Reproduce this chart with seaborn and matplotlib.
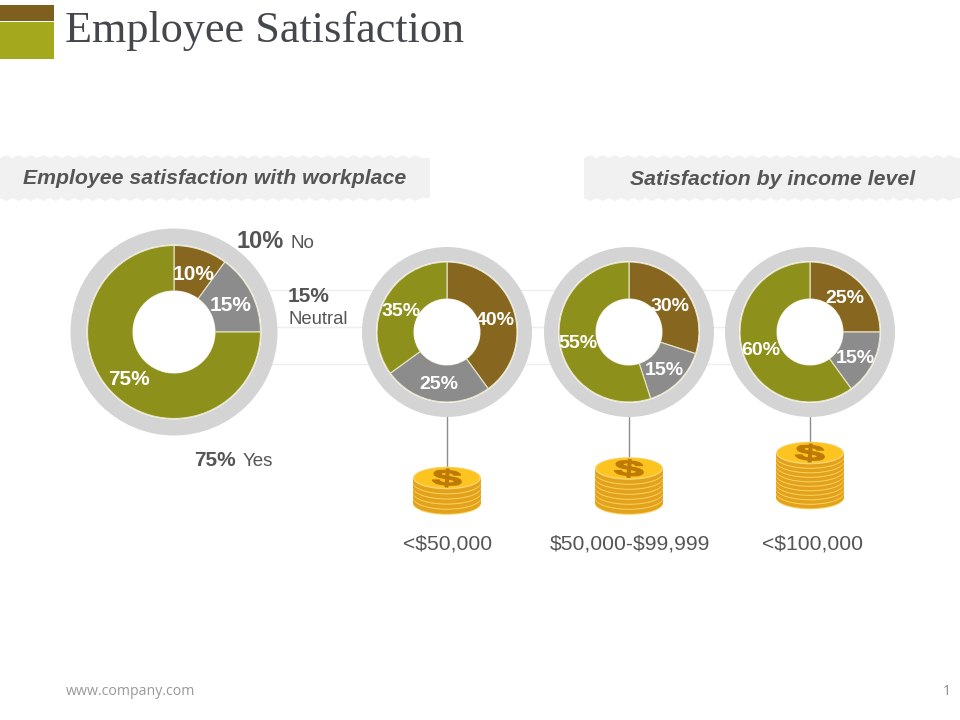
import matplotlib
matplotlib.use('Agg')
import matplotlib.pyplot as plt
from matplotlib.patches import Circle, Ellipse, PathPatch, Polygon, Rectangle
from matplotlib.textpath import TextPath
from matplotlib.font_manager import FontProperties
from matplotlib.transforms import Affine2D
import numpy as np
import seaborn as sns

# chart values
workplace_labels = ['No', 'Neutral', 'Yes']
workplace_values = [10, 15, 75]
income_groups = ['<$50,000', '$50,000-$99,999', '<$100,000']
income_no = [40, 30, 25]
income_neutral = [25, 15, 15]
income_yes = [35, 55, 60]
coin_counts = [5, 7, 10]

sns.set_theme(style='white')
plt.rcParams['font.family'] = ['Liberation Sans', 'DejaVu Sans']
plt.rcParams['text.parse_math'] = False
colors = sns.color_palette(['#876720', '#8c8c8c', '#8d911c'])
TEXT = '#555555'
RING = '#d4d4d4'


def Y(py):
    # picture pixels count from the top
    return 720 - py


fig = plt.figure(figsize=(9.6, 7.2), dpi=100)
ax = fig.add_axes([0, 0, 1, 1])
ax.set_xlim(0, 960)
ax.set_ylim(0, 720)
ax.set_aspect('equal')
ax.axis('off')

# logo blocks and title
ax.add_patch(Rectangle((0, Y(20.5)), 54, 15.5, color='#7f5f1e', lw=0))
ax.add_patch(Rectangle((0, Y(59)), 54, 37, color='#a3a81c', lw=0))
ax.text(65, Y(42), 'Employee Satisfaction', family='Liberation Serif', fontsize=31.85, color='#44474c')


def banner(x0, x1, y0, y1, step=12.4, amp=3):
    n = int((x1 - x0) / step)
    xs = x0 + np.arange(n * 2 + 1) * step / 2
    xs = xs[xs <= x1]
    wave = np.where(np.arange(len(xs)) % 2 == 0, 0, amp)
    top = np.column_stack([xs, Y(y0 + amp - wave)])
    bot = np.column_stack([xs, Y(y1 - amp + wave)])
    pts = np.vstack([top, [[x1, Y(y0 + amp)], [x1, Y(y1 - amp)]], bot[::-1]])
    ax.add_patch(Polygon(pts, closed=True, color='#f1f1f1', lw=0, zorder=1))


banner(0, 430, 155, 201)
banner(584, 960, 155, 201)
ax.text(215, Y(178.5), 'Employee satisfaction with workplace', ha='center', va='center',
        fontsize=15.35, fontweight='bold', fontstyle='italic', color=TEXT, zorder=2)
ax.text(773, Y(179.5), 'Satisfaction by income level', ha='center', va='center',
        fontsize=15.35, fontweight='bold', fontstyle='italic', color=TEXT, zorder=2)

# faint guide lines behind the donuts
for py in [289.5, 326.5, 363.5]:
    ax.plot([270, 740], [Y(py), Y(py)], color='#eeeeee', lw=1, zorder=1)


def donut(cx, cy, values, r_ring, r_out, r_hole):
    ax.add_patch(Circle((cx, Y(cy)), r_ring, color=RING, lw=0, zorder=2))
    ax.add_patch(Circle((cx, Y(cy)), r_out + 1, color='white', lw=0, zorder=2))
    wedges, _ = ax.pie(values, colors=colors, center=(cx, Y(cy)), radius=r_out, startangle=90,
                       counterclock=False, frame=True,
                       wedgeprops=dict(width=r_out - r_hole, edgecolor='#e8e4c8', linewidth=0.8))
    for w in wedges:
        w.set_zorder(3)
    ax.add_patch(Circle((cx, Y(cy)), r_hole, color='white', lw=0, zorder=4))


def inner_label(px, py, v, size=14):
    ax.text(px, Y(py + 1.5), f'{v}%', ha='center', va='center', fontsize=size, fontweight='bold',
            color='white', zorder=5)


# big donut
donut(174, 332, workplace_values, 103.5, 86.5, 41)
for (px, py), v in zip([(194, 273), (231, 304), (129, 378)], workplace_values):
    inner_label(px, py, v, 15)

ax.text(236, Y(242), f'{workplace_values[0]}%', va='center', fontsize=17, fontweight='bold', color=TEXT)
ax.text(290, Y(244), workplace_labels[0], va='center', fontsize=13.5, color=TEXT)
ax.text(288, Y(296), f'{workplace_values[1]}%', va='center', fontsize=15, fontweight='bold', color=TEXT)
ax.text(288, Y(319.5), workplace_labels[1], va='center', fontsize=13.3, color=TEXT)
ax.text(194, Y(460), f'{workplace_values[2]}%', va='center', fontsize=15, fontweight='bold', color=TEXT)
ax.text(243, Y(461), workplace_labels[2], va='center', fontsize=13.5, color=TEXT)

# income donuts
centers = [447, 629, 810]
label_pos = [
    [(495, 319), (439, 383), (401, 310)],
    [(670, 305), (664, 369), (578, 342)],
    [(845, 297), (855, 357), (761, 349)],
]
for i, cx in enumerate(centers):
    vals = [income_no[i], income_neutral[i], income_yes[i]]
    donut(cx, 332, vals, 85, 70, 33)
    for (px, py), v in zip(label_pos[i], vals):
        inner_label(px, py, v)

dollar = TextPath((0, 0), '$', size=20, prop=FontProperties(family='Liberation Sans', weight='bold'))
box = dollar.get_extents()


def coins(cx, base, top, n):
    # stack of n coins, base and top are ellipse centres in picture pixels
    rx, ry = 34, 11.3
    h = (base - top) / n
    for k in range(n):
        y = base - k * h
        ax.add_patch(Ellipse((cx, Y(y)), rx * 2, ry * 2, color='#fbd35c', lw=0, zorder=3))
        ax.add_patch(Ellipse((cx, Y(y - 1)), rx * 2, ry * 2, color='#e3a21d', lw=0, zorder=3))
        ax.add_patch(Rectangle((cx - rx, Y(y - 1)), rx * 2, h - 1, color='#e3a21d', lw=0, zorder=3))
    ax.add_patch(Ellipse((cx, Y(top)), rx * 2, ry * 2, color='#f5d56c', lw=0, zorder=4))
    ax.add_patch(Ellipse((cx, Y(top - 0.3)), rx * 2 - 3, ry * 2 - 2.5, color='#fdc31f', lw=0, zorder=4))
    tr = (Affine2D().translate(-box.x0 - box.width / 2, -box.y0 - box.height / 2)
          .scale(29 / box.width, 18 / box.height).rotate_deg(-4)
          .translate(cx, Y(top)) + ax.transData)
    ax.add_patch(PathPatch(dollar, transform=tr, facecolor='#bd7a06', edgecolor='#bd7a06', lw=0.8, zorder=5))


coin_bases = [503.5, 503.5, 498]
coin_tops = [478, 468.5, 453]
label_centers = [447.5, 630, 812.5]
for cx, n, base, top, lx, group in zip(centers, coin_counts, coin_bases, coin_tops, label_centers, income_groups):
    coins(cx, base, top, n)
    ax.plot([cx, cx], [Y(417), Y(top - 11)], color='#8c8c8c', lw=1, zorder=1)
    ax.text(lx, Y(544), group, ha='center', va='center', fontsize=15.2, color=TEXT)

# footer
ax.text(66, Y(691.5), 'www.company.com', va='center', family='Open Sans', fontsize=10.15, color='#999999')
ax.text(947, Y(691.5), '1', va='center', ha='center', family='Open Sans', fontsize=10, color='#888888')

ax.set_xlim(0, 960)
ax.set_ylim(0, 720)
ax.axis('off')
fig.savefig('out.png', dpi=100)
